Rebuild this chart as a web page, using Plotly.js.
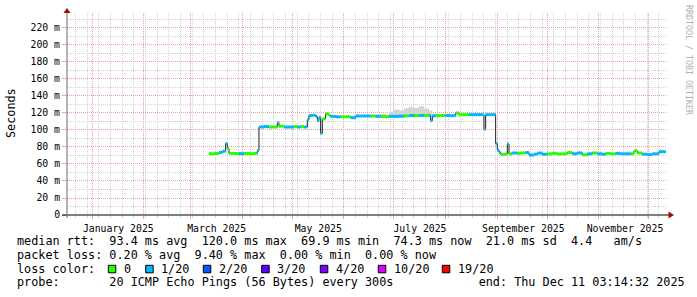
<!DOCTYPE html>
<html>
<head>
<meta charset="utf-8">
<script src="https://cdn.plot.ly/plotly-3.0.1.min.js"></script>
<style>html,body{margin:0;padding:0;background:#fff;}#chart{width:697px;height:297px;}</style>
</head>
<body>
<div id="chart"></div>
<script>
// ---------------- data ----------------
const sampleDates = [
 '2025-03-12','2025-03-15','2025-03-18','2025-03-20','2025-03-22','2025-03-23','2025-03-24','2025-03-27','2025-03-30',
 '2025-04-02','2025-04-05','2025-04-08','2025-04-10','2025-04-11','2025-04-14','2025-04-17','2025-04-20','2025-04-22',
 '2025-04-23','2025-04-26','2025-04-29','2025-05-02','2025-05-04','2025-05-06','2025-05-08','2025-05-10','2025-05-11',
 '2025-05-13','2025-05-15','2025-05-16','2025-05-17','2025-05-18','2025-05-19','2025-05-21','2025-05-23','2025-05-24',
 '2025-05-27','2025-05-30','2025-06-02','2025-06-05','2025-06-08','2025-06-11','2025-06-14','2025-06-17','2025-06-20',
 '2025-06-23','2025-06-26','2025-06-28','2025-07-01','2025-07-04','2025-07-07','2025-07-10','2025-07-13','2025-07-16',
 '2025-07-19','2025-07-22','2025-07-23','2025-07-24','2025-07-26','2025-07-29','2025-08-01','2025-08-04','2025-08-07',
 '2025-08-09','2025-08-12','2025-08-15','2025-08-18','2025-08-21','2025-08-24','2025-08-25','2025-08-28','2025-08-31',
 '2025-09-01','2025-09-02','2025-09-03','2025-09-06','2025-09-07','2025-09-08','2025-09-10','2025-09-13','2025-09-15',
 '2025-09-18','2025-09-20','2025-09-23','2025-09-25','2025-09-28','2025-10-01','2025-10-04','2025-10-07','2025-10-10',
 '2025-10-13','2025-10-16','2025-10-19','2025-10-22','2025-10-25','2025-10-28','2025-10-31','2025-11-03','2025-11-05',
 '2025-11-08','2025-11-11','2025-11-14','2025-11-17','2025-11-20','2025-11-22','2025-11-24','2025-11-27','2025-11-30',
 '2025-12-03','2025-12-06','2025-12-07','2025-12-10'
];
const medianMs = [
 72.0,72.3,73.5,75.0,84.0,78.0,72.5,72.3,72.2,
 72.4,72.2,72.4,76.0,103.5,104.0,103.5,103.5,108.5,
 104.5,103.5,103.5,104.0,103.5,104.0,103.5,112.0,117.0,
 117.3,116.0,111.0,115.0,96.0,113.0,119.0,117.0,116.0,
 115.5,115.5,115.5,114.5,116.5,116.5,116.5,116.5,116.0,
 115.8,115.5,116.0,116.0,116.2,116.5,117.0,117.0,117.0,
 117.2,117.0,111.0,116.5,117.0,117.0,117.0,116.8,120.0,
 118.0,118.0,118.0,118.0,118.0,101.0,118.0,118.0,84.0,
 76.5,73.7,71.4,71.6,83.5,72.0,73.0,72.5,73.0,
 73.5,70.5,71.5,72.8,71.5,72.0,72.5,71.8,72.0,
 73.5,72.0,73.0,70.8,72.0,73.0,72.0,71.5,72.5,
 72.0,72.5,72.0,72.0,72.0,75.5,73.0,71.5,71.0,
 72.0,72.0,74.5,74.3
];
// lost pings out of 20 for each sample
const lossCount = [
 0,0,1,1,1,0,0,0,1,
 0,0,0,1,1,1,0,0,1,
 0,1,1,0,1,0,1,1,1,
 1,1,1,1,1,0,0,0,1,
 1,0,0,1,1,1,1,0,1,
 0,0,1,1,1,0,1,0,1,
 0,1,1,1,0,0,1,1,0,
 0,0,1,1,1,1,1,1,1,
 1,1,0,0,1,0,1,0,0,
 1,1,1,1,1,0,0,0,0,
 0,1,1,0,1,0,1,1,0,
 0,1,1,1,0,0,0,1,1,
 1,1,1,1
];
const endTime = '2025-12-11 03:14:32';

// visible ping spread ("smoke")
const smokeDates = ['2025-06-20','2025-06-23','2025-06-26','2025-06-28','2025-07-01','2025-07-04','2025-07-07',
                    '2025-07-10','2025-07-13','2025-07-16','2025-07-19','2025-07-22','2025-07-24','2025-07-26'];
const smokeLow  = [115,115,114.5,115,115,115,115.5,116,116,116,116,116,115.5,116];
const smokeHigh = [118.5,119,118.5,121.5,124,123,125.5,127,126,128,125,123,119,118];

const lossLevels = [0,1,2,3,4,10,19];
const lossLabels = ['0','1/20','2/20','3/20','4/20','10/20','19/20'];
const lossColors = ['#26ff00','#00b8ff','#0059ff','#5e00ff','#7e00ff','#dd00ff','#ff0000'];

const monthStarts = ['2025-01-01','2025-02-01','2025-03-01','2025-04-01','2025-05-01','2025-06-01',
                     '2025-07-01','2025-08-01','2025-09-01','2025-10-01','2025-11-01','2025-12-01'];
const monthLabels = ['January 2025','','March 2025','','May 2025','','July 2025','','September 2025','','November 2025',''];
const yTickVals = [0,20,40,60,80,100,120,140,160,180,200,220];
const yTickText = ['0','20 m','40 m','60 m','80 m','100 m','120 m','140 m','160 m','180 m','200 m','220 m'];

const legendLine1 = 'median rtt:  93.4 ms avg  120.0 ms max  69.9 ms min  74.3 ms now  21.0 ms sd  4.4   am/s';
const legendLine2 = 'packet loss: 0.20 % avg  9.40 % max  0.00 % min  0.00 % now';
const legendLine3 = 'loss color:';
const legendLine4 = 'probe:       20 ICMP Echo Pings (56 Bytes) every 300s            end: Thu Dec 11 03:14:32 2025';
const ylabel = 'Seconds';
const watermark = 'RRDTOOL / TOBI OETIKER';

// ---------------- build ----------------
const MONO = 'DejaVu Sans Mono';
const nb = s => s.replace(/ /g, '\u00a0');
const T = sampleDates.concat([endTime]);

function levelIndex(l) {
  for (let k = 0; k < lossLevels.length; k++) {
    if (l <= lossLevels[k]) return k;
  }
  return lossLevels.length - 1;
}

const traces = [];
// smoke
traces.push({x: smokeDates, y: smokeLow, mode: 'lines', line: {width: 0, shape: 'hv'}, hoverinfo: 'skip'});
traces.push({x: smokeDates, y: smokeHigh, mode: 'lines', line: {width: 0, shape: 'hv'}, fill: 'tonexty',
             fillcolor: '#d4d4d4', hoverinfo: 'skip'});
// median thin line
traces.push({x: T, y: medianMs.concat([medianMs[medianMs.length - 1]]), mode: 'lines',
             line: {color: '#202020', width: 1, shape: 'hv'}, hoverinfo: 'skip'});
// loss coloured bands
lossLevels.forEach((lv, k) => {
  const xs = [], ys = [];
  for (let i = 0; i < sampleDates.length; i++) {
    if (levelIndex(lossCount[i]) === k) {
      xs.push(T[i], T[i + 1], null);
      ys.push(medianMs[i], medianMs[i], null);
    }
  }
  traces.push({x: xs, y: ys, mode: 'lines', line: {color: lossColors[k], width: 3}, connectgaps: false, hoverinfo: 'skip'});
});

const px = v => (v - 67) / 600;
const py = v => (215 - v) / 202;

const annotations = [];
function txt(text, x, y, opts) {
  annotations.push(Object.assign({text: nb(text), x: px(x), y: py(y), xref: 'paper', yref: 'paper',
    showarrow: false, xanchor: 'left', yanchor: 'middle', borderpad: 0,
    font: {family: MONO, size: 11.8, color: '#000'}}, opts || {}));
}
txt(legendLine1, 16, 241.5);
txt(legendLine2, 16, 255);
txt(legendLine3, 16, 268.5);
txt(legendLine4, 16, 282.3);
txt(ylabel, 11, 113, {xanchor: 'center', textangle: -90});
txt(watermark, 689, 60, {xanchor: 'center', textangle: 90, font: {family: MONO, size: 8.3, color: '#b0b0b0'}});

const shapes = [];
const boxX = [108.3, 145.7, 203.3, 261.7, 320.3, 378.3, 442.3];
lossLabels.forEach((lab, k) => {
  shapes.push({type: 'rect', xref: 'paper', yref: 'paper', xsizemode: 'pixel', ysizemode: 'pixel',
    xanchor: 0, yanchor: 0, x0: boxX[k] - 67, x1: boxX[k] + 7.5 - 67, y0: 215 - 265.3, y1: 215 - 272.8,
    fillcolor: lossColors[k], line: {color: '#000', width: 1}});
  txt(lab, boxX[k] + 14.7, 268.5);
});
// axis lines + arrows
shapes.push({type: 'line', xref: 'paper', yref: 'paper', xsizemode: 'pixel', xanchor: 0, x0: -5, x1: 602,
  y0: 0, y1: 0, line: {color: '#000', width: 1.2}});
shapes.push({type: 'line', xref: 'paper', yref: 'paper', ysizemode: 'pixel', yanchor: 0, y0: -3, y1: 204,
  x0: 0, x1: 0, line: {color: '#6a6a6a', width: 1}});
shapes.push({type: 'path', xref: 'paper', yref: 'paper', xsizemode: 'pixel', ysizemode: 'pixel', xanchor: 0, yanchor: 0,
  path: 'M -3.5 202 L 3.5 202 L 0 207 Z', fillcolor: '#9a1010', line: {width: 0}});
shapes.push({type: 'path', xref: 'paper', yref: 'paper', xsizemode: 'pixel', ysizemode: 'pixel', xanchor: 1, yanchor: 0,
  path: 'M 1.5 -3.5 L 1.5 3.5 L 7 0 Z', fillcolor: '#9a1010', line: {width: 0}});

const MGRID = '#e8a2a2', GRID = '#d2d2d2';
const layout = {
  width: 697, height: 297,
  margin: {l: 67, r: 30, t: 13, b: 82, pad: 0},
  paper_bgcolor: '#ffffff', plot_bgcolor: '#ffffff',
  showlegend: false,
  xaxis: {
    type: 'date', range: ['2024-12-16 19:30', '2025-12-11 19:30'],
    tickmode: 'array', tickvals: monthStarts, ticktext: monthLabels,
    ticklabelshift: 26, ticklabelstandoff: 1,
    ticks: 'outside', ticklen: 3, tickcolor: MGRID, tickwidth: 1,
    showgrid: true, gridcolor: MGRID, griddash: '1px,1px', gridwidth: 1,
    showline: false, zeroline: false,
    tickfont: {family: MONO, size: 9.8, color: '#000'},
    minor: {tickmode: 'linear', tick0: '2024-12-29', dtick: 604800000, showgrid: true,
            gridcolor: GRID, griddash: '1px,1px', gridwidth: 1, ticks: 'outside', ticklen: 2, tickcolor: GRID}
  },
  yaxis: {
    range: [0, 237.6], tickmode: 'array', tickvals: yTickVals, ticktext: yTickText,
    ticks: 'outside', ticklen: 4, tickcolor: MGRID, tickwidth: 1,
    showgrid: true, gridcolor: MGRID, griddash: '1px,1px', gridwidth: 1,
    showline: false, zeroline: false,
    tickfont: {family: MONO, size: 9.8, color: '#000'},
    minor: {tickmode: 'linear', tick0: 0, dtick: 10, showgrid: true, gridcolor: GRID, griddash: '1px,1px', gridwidth: 1}
  },
  annotations: annotations,
  shapes: shapes
};

Plotly.newPlot('chart', traces, layout, {staticPlot: true, displayModeBar: false});
</script>
</body>
</html>
